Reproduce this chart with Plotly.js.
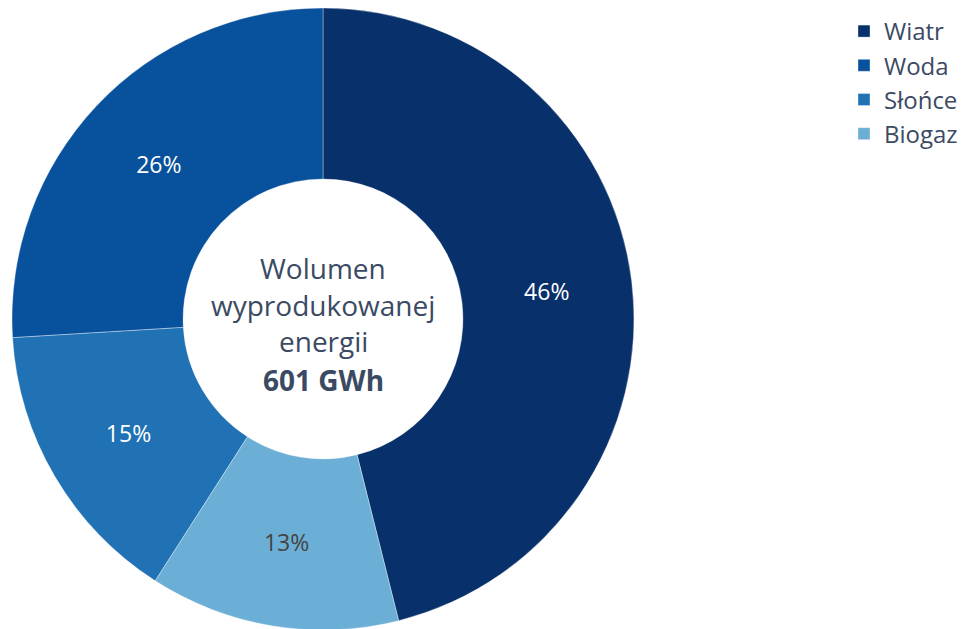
<!DOCTYPE html>
<html>
<head>
<meta charset="utf-8">
<script src="https://cdn.plot.ly/plotly-3.0.1.min.js"></script>
<style>
html,body{margin:0;padding:0;overflow:hidden;background:#fff;}
#chart{width:968px;height:632px;}
</style>
</head>
<body>
<div id="chart"></div>
<script>
// Data
var categories = ["Wiatr", "Woda", "Słońce", "Biogaz"];
var values = [277, 156, 90, 78]; // GWh, total 601
var colors = ["#08306b", "#08519c", "#2171b5", "#6baed6"];
var textColors = ["#ffffff", "#ffffff", "#ffffff", "#444444"];
var centerLines = ["Wolumen", "wyprodukowanej", "energii", "<b>601 GWh</b>"];

var W = 968, H = 632;
var m = {l: 12, r: 0, t: 8, b: 2};
var plotW = W - m.l - m.r, plotH = H - m.t - m.b;
var cx = 323, cyPx = [268, 305, 341, 380];

var trace = {
  type: "pie",
  labels: categories,
  values: values,
  hole: 0.45,
  sort: false,
  direction: "counterclockwise",
  rotation: 0,
  marker: {colors: colors, line: {color: "rgba(255,255,255,0.35)", width: 1}},
  texttemplate: "%{percent:.0%}",
  textposition: "inside",
  insidetextorientation: "horizontal",
  insidetextfont: {color: textColors, size: 23, family: "Open Sans, sans-serif"},
  hoverinfo: "none",
  domain: {x: [0, plotH / plotW], y: [0, 1]}
};

var annotations = centerLines.map(function(t, i){
  return {
    text: t, showarrow: false, xref: "paper", yref: "paper",
    x: (cx - m.l) / plotW, y: (H - m.b - cyPx[i]) / plotH,
    xanchor: "center", yanchor: "middle",
    font: {family: "Open Sans, sans-serif", size: 28, color: "#3b4a63"}
  };
});

var layout = {
  width: W, height: H,
  margin: m,
  paper_bgcolor: "#ffffff",
  plot_bgcolor: "#ffffff",
  showlegend: true,
  legend: {
    x: (844 - m.l) / plotW, xanchor: "left",
    y: (H - m.b - 9) / plotH, yanchor: "top",
    font: {family: "Open Sans, sans-serif", size: 24, color: "#3b4a63"},
    traceorder: "normal"
  },
  annotations: annotations,
  font: {family: "Open Sans, sans-serif"}
};

Plotly.newPlot("chart", [trace], layout, {displayModeBar: false, staticPlot: true});
</script>
</body>
</html>
